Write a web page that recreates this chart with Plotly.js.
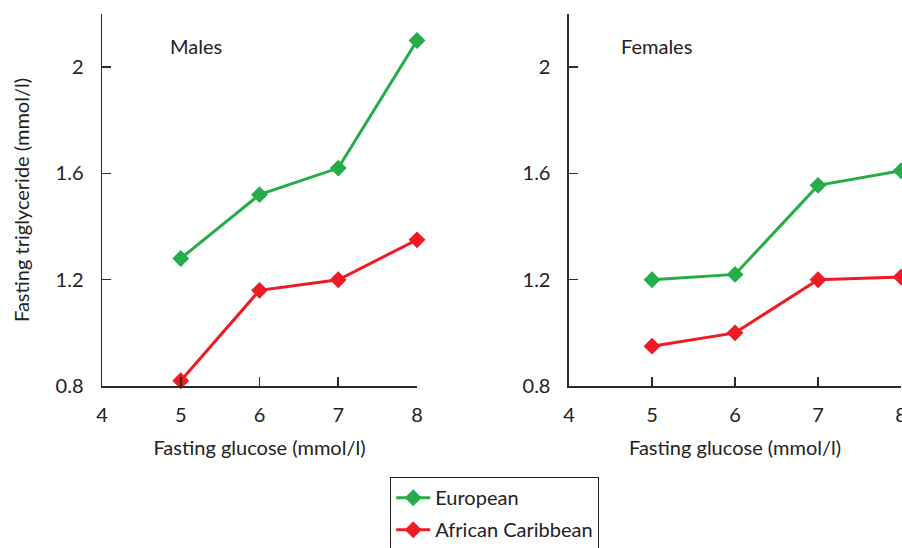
<!DOCTYPE html>
<html>
<head>
<meta charset="utf-8">
<script src="https://cdn.plot.ly/plotly-3.0.1.min.js"></script>
<style>html,body{margin:0;padding:0;background:#fff;overflow:hidden}#chart{width:902px;height:548px}</style>
</head>
<body>
<div id="chart"></div>
<script>
// Data
var glucose = [5, 6, 7, 8];
var malesEuropean = [1.28, 1.52, 1.62, 2.10];
var malesAfricanCaribbean = [0.82, 1.16, 1.20, 1.35];
var femalesEuropean = [1.20, 1.22, 1.555, 1.61];
var femalesAfricanCaribbean = [0.95, 1.00, 1.20, 1.21];
var xTicks = [4, 5, 6, 7, 8];
var yTicks = [0.8, 1.2, 1.6, 2];
var yTickLabels = ['0.8', '1.2', '1.6', '2'];
var seriesNames = ['European', 'African Caribbean'];
var panelLabels = ['Males', 'Females'];

var green = '#25ad4a';
var red = '#ed1c24';
var FONT = 'Lato, "Open Sans", sans-serif';
var FS = 20;
var axisColor = '#2b2b2b';
var textColor = '#222';

function tr(x, y, name, color, xa, ya, show) {
  return {
    x: x, y: y, name: name, type: 'scatter', mode: 'lines+markers',
    xaxis: xa, yaxis: ya, showlegend: show, legendgroup: name,
    line: {color: color, width: 3},
    marker: {symbol: 'diamond', size: 13, color: color},
    cliponaxis: false, hoverinfo: 'x+y'
  };
}

var data = [
  tr(glucose, malesEuropean, seriesNames[0], green, 'x', 'y', true),
  tr(glucose, malesAfricanCaribbean, seriesNames[1], red, 'x', 'y', true),
  tr(glucose, femalesEuropean, seriesNames[0], green, 'x2', 'y2', false),
  tr(glucose, femalesAfricanCaribbean, seriesNames[1], red, 'x2', 'y2', false)
];

function xax(domain, anchor) {
  return {
    domain: domain, anchor: anchor, range: [4, 8], tickvals: xTicks,
    showline: true, linecolor: axisColor, linewidth: 1.5,
    ticks: 'inside', ticklen: 9, tickwidth: 1.5, tickcolor: axisColor,
    showgrid: false, zeroline: false, ticklabelstandoff: 10,
    ticklabeloverflow: 'allow', automargin: false,
    tickfont: {family: FONT, size: FS, color: textColor},
    title: {text: 'Fasting glucose (mmol/l)', font: {family: FONT, size: FS, color: textColor}, standoff: 16}
  };
}
function yax(domain, anchor, title) {
  var a = {
    domain: domain, anchor: anchor, range: [0.8, 2.2], tickvals: yTicks, ticktext: yTickLabels,
    showline: true, linecolor: axisColor, linewidth: 1.5,
    ticks: 'inside', ticklen: 9, tickwidth: 1.5, tickcolor: axisColor,
    showgrid: false, zeroline: false, ticklabelstandoff: 13, automargin: false,
    tickfont: {family: FONT, size: FS, color: textColor}
  };
  if (title) a.title = {text: title, font: {family: FONT, size: FS, color: textColor}, standoff: 20};
  return a;
}

var yDom = [0.2956, 0.9745];
var layout = {
  width: 902, height: 548,
  margin: {l: 0, r: 0, t: 0, b: 0, autoexpand: false},
  paper_bgcolor: '#fff', plot_bgcolor: '#fff',
  showlegend: true,
  xaxis: xax([0.1131, 0.4623], 'y'),
  yaxis: yax(yDom, 'x', 'Fasting triglyceride (mmol/l)'),
  xaxis2: xax([0.6308, 0.999], 'y2'),
  yaxis2: yax(yDom, 'x2', null),
  legend: {
    x: 0.4324, y: 0.1296, xanchor: 'left', yanchor: 'top',
    bordercolor: '#222', borderwidth: 1.2, bgcolor: '#fff',
    font: {family: FONT, size: FS, color: textColor},
    traceorder: 'grouped', tracegroupgap: 3, itemwidth: 34
  },
  annotations: [
    {x: 4.84, y: 2.078, xref: 'x', yref: 'y', text: panelLabels[0], showarrow: false, xanchor: 'left', yanchor: 'middle', font: {family: FONT, size: FS, color: textColor}},
    {x: 4.6, y: 2.078, xref: 'x2', yref: 'y2', text: panelLabels[1], showarrow: false, xanchor: 'left', yanchor: 'middle', font: {family: FONT, size: FS, color: textColor}}
  ]
};

Plotly.newPlot('chart', data, layout, {displayModeBar: false, staticPlot: true});
</script>
</body>
</html>
